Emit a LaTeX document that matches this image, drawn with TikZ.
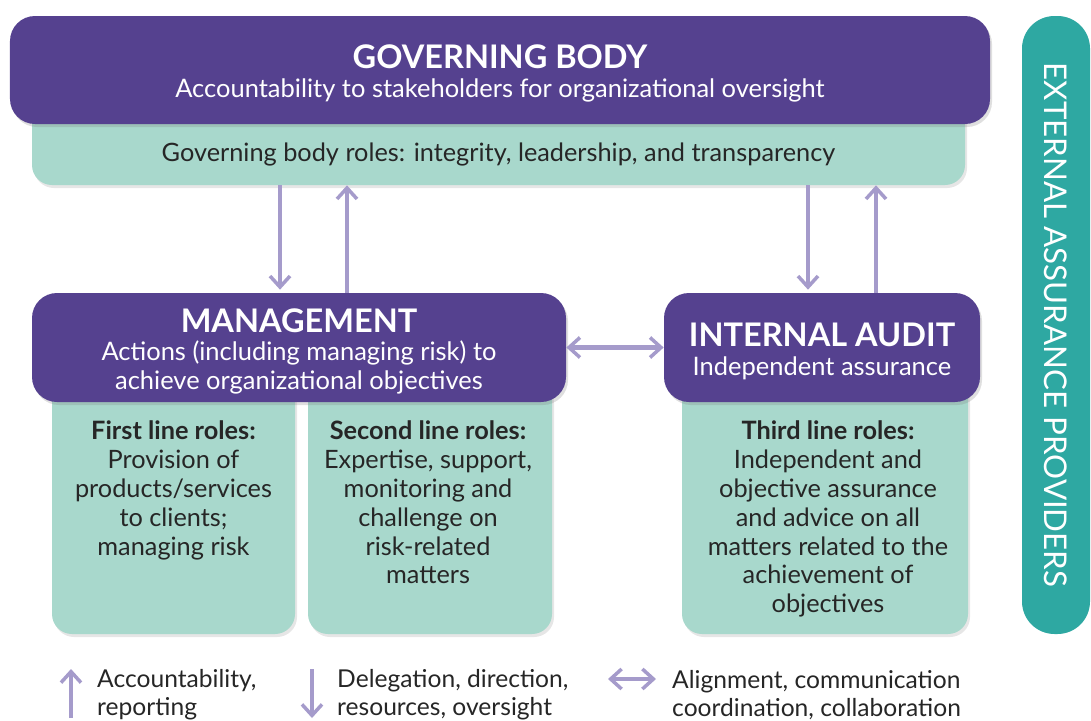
\documentclass[tikz,border=0pt]{standalone}
\usepackage{fontspec}
\setmainfont{Lato}
\usepackage{tikz}
\usetikzlibrary{arrows.meta,positioning,shadows}
\definecolor{gbpurple}{HTML}{55418F}
\definecolor{rolesteal}{HTML}{A8D8CC}
\definecolor{extteal}{HTML}{2EA8A2}
\definecolor{arrowlav}{HTML}{A59BCB}
\newcommand{\titlestrut}{\rule{0pt}{18pt}}

\begin{document}
\begin{tikzpicture}[
  purplebox/.style = {rectangle, rounded corners=0.5cm, fill=gbpurple, text=white,
                      align=center, inner sep=0pt, font=\fontsize{14.5}{16.5}\selectfont,
                      drop shadow={opacity=0.25, shadow xshift=0.04cm, shadow yshift=-0.06cm}},
  tealbox/.style   = {rectangle, rounded corners=0.4cm, fill=rolesteal, inner sep=0pt,
                      drop shadow={opacity=0.2, shadow xshift=0.04cm, shadow yshift=-0.06cm}},
  roletext/.style  = {align=center, text=black!85, font=\fontsize{14.4}{16.5}\selectfont},
  keytext/.style   = {anchor=west, align=left, text=black!85, font=\fontsize{14}{16}\selectfont},
  arr/.style       = {-{Straight Barb[length=0.22cm, width=0.4cm, line width=2pt]},
                      line width=2.3pt, arrowlav},
  darr/.style      = {{Straight Barb[length=0.22cm, width=0.4cm, line width=2pt]}-{Straight Barb[length=0.22cm, width=0.4cm, line width=2pt]},
                      line width=2.3pt, arrowlav}
]
\useasboundingbox (0,0) rectangle (21.82,-14.4);

% role boxes (drawn first, under the purple boxes)
\node[tealbox, minimum width=18.66cm, minimum height=1.8cm] (gbteal) at (9.97,-2.8) {};
\node[tealbox, minimum width=4.86cm, minimum height=5.08cm] (first)  at (3.47,-10.14) {};
\node[tealbox, minimum width=4.88cm, minimum height=5.08cm] (second) at (8.60,-10.14) {};
\node[tealbox, minimum width=5.72cm, minimum height=5.08cm] (third)  at (16.50,-10.14) {};

% purple boxes
\node[purplebox, minimum width=19.6cm, minimum height=2.16cm] (gb) at (10.0,-1.4)
  {\titlestrut{\fontsize{18.5}{20}\selectfont\bfseries GOVERNING BODY}\\[0pt]
   Accountability to stakeholders for organizational oversight};
\node[purplebox, minimum width=10.68cm, minimum height=2.18cm] (mgmt) at (5.98,-6.95)
  {\titlestrut{\fontsize{18.5}{20}\selectfont\bfseries MANAGEMENT}\\[0pt]
   Actions (including managing risk) to\\
   achieve organizational objectives};
\node[purplebox, minimum width=6.32cm, minimum height=2.18cm] (audit) at (16.44,-6.95)
  {\titlestrut{\fontsize{18.5}{20}\selectfont\bfseries INTERNAL AUDIT}\\[0pt]
   Independent assurance};

\node[rectangle, rounded corners=0.65cm, fill=extteal, text=white, inner sep=0pt,
      minimum width=1.36cm, minimum height=12.36cm] (ext) at (21.12,-6.5) {};
\node[text=white, rotate=-90, font=\fontsize{17.8}{20}\selectfont] (exttext) at (ext.center)
  {EXTERNAL ASSURANCE PROVIDERS};

% texts of the role boxes
\node[roletext] (gbroles) at (9.97,-3.08)
  {Governing body roles: integrity, leadership, and transparency};
\node[roletext, anchor=north] (firsttxt) at (3.47,-8.28)
  {\textbf{First line roles:}\\Provision of\\products/services\\to clients;\\managing risk};
\node[roletext, anchor=north] (secondtxt) at (8.56,-8.28)
  {\textbf{Second line roles:}\\Expertise, support,\\monitoring and\\challenge on\\risk-related\\matters};
\node[roletext, anchor=north] (thirdtxt) at (16.56,-8.28)
  {\textbf{Third line roles:}\\Independent and\\objective assurance\\and advice on all\\matters related to the\\achievement of\\objectives};

% arrows between the bodies
\coordinate (dnleft)  at (5.60,0);
\coordinate (upleft)  at (6.94,0);
\coordinate (dnright) at (16.16,0);
\coordinate (upright) at (17.52,0);
\draw[arr] (gbteal.south -| dnleft)  -- ([yshift=0.06cm]mgmt.north -| dnleft);
\draw[arr] (mgmt.north -| upleft)    -- (gbteal.south -| upleft);
\draw[arr] (gbteal.south -| dnright) -- ([yshift=0.06cm]audit.north -| dnright);
\draw[arr] (audit.north -| upright)  -- (gbteal.south -| upright);
\draw[darr] (mgmt.east) -- (audit.west);

% legend
\coordinate (keyup0) at (1.42,-14.36);
\coordinate (keyup1) at (1.42,-13.38);
\coordinate (keydn0) at (6.24,-13.38);
\coordinate (keydn1) at (6.24,-14.36);
\coordinate (keylr0) at (12.16,-13.58);
\coordinate (keylr1) at (13.12,-13.58);
\draw[arr] (keyup0) -- (keyup1);
\draw[arr] (keydn0) -- (keydn1);
\draw[darr] (keylr0) -- (keylr1);
\node[keytext] (keyuptxt) at (1.82,-13.9) {Accountability,\\reporting};
\node[keytext] (keydntxt) at (6.62,-13.9) {Delegation, direction,\\resources, oversight};
\node[keytext] (keylrtxt) at (13.32,-13.9) {Alignment, communication\\coordination, collaboration};
\end{tikzpicture}
\end{document}
